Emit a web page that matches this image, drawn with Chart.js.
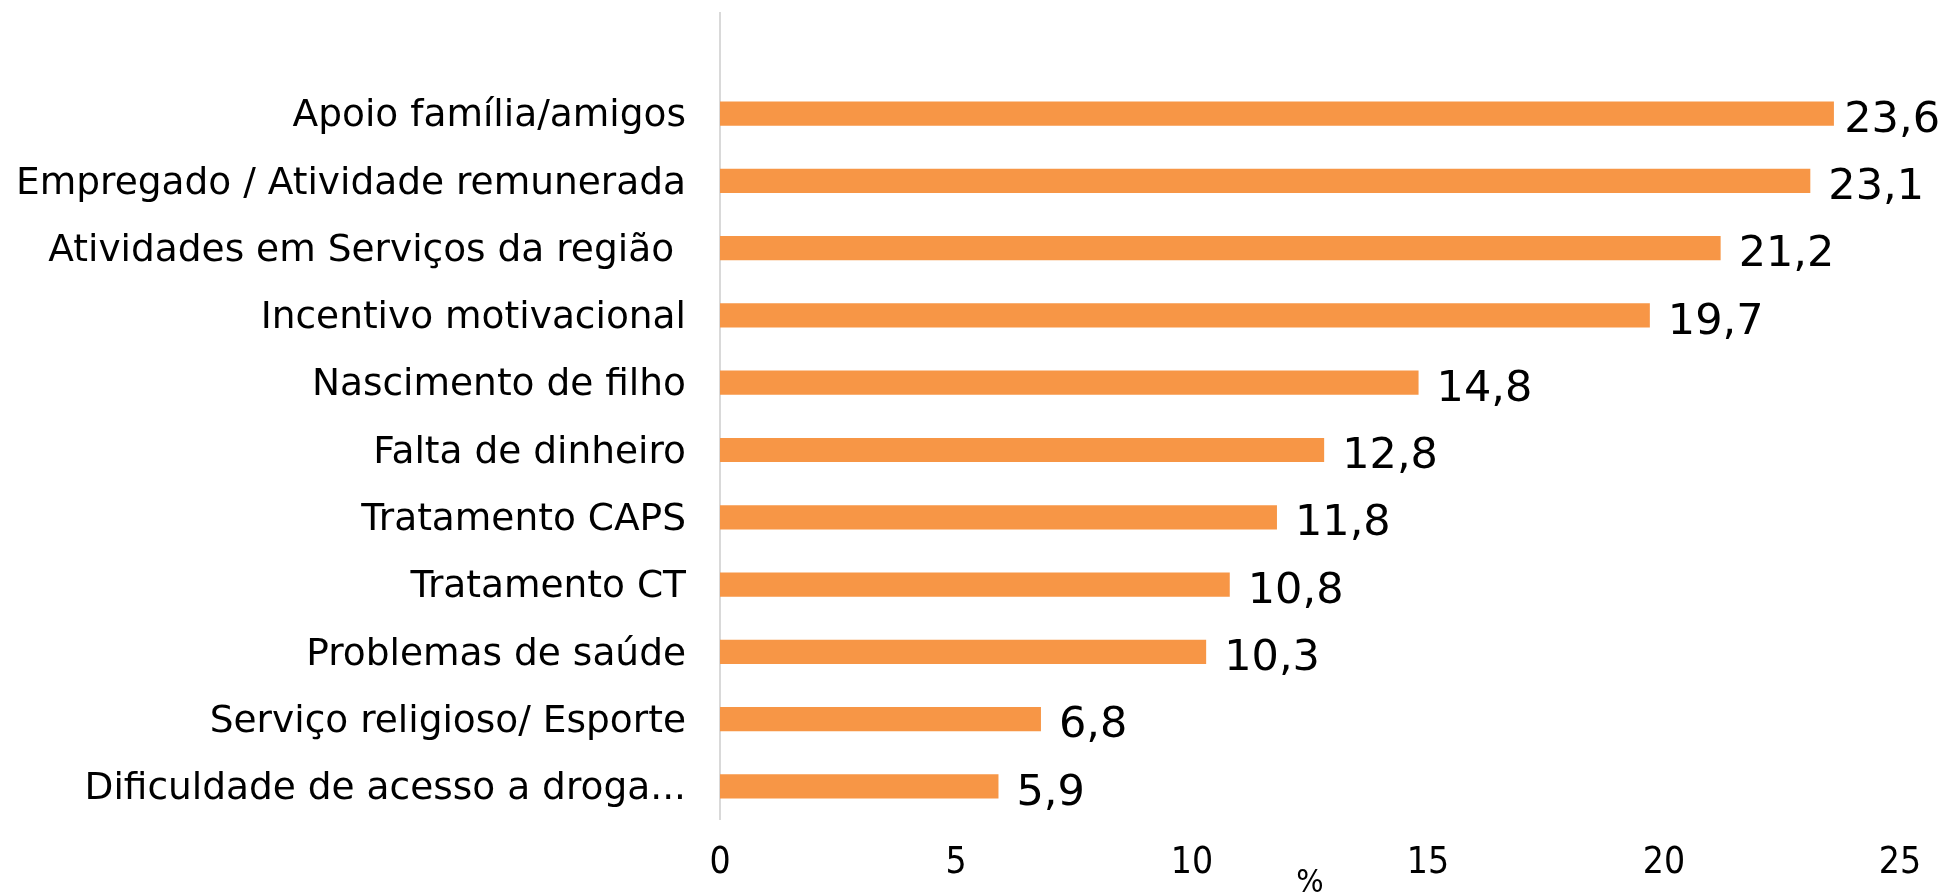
<!DOCTYPE html>
<html>
<head>
<meta charset="utf-8">
<script src="https://cdn.jsdelivr.net/npm/chart.js@4.4.0/dist/chart.umd.min.js"></script>
<style>
  html, body { margin: 0; padding: 0; background: #fff; }
  #wrap { width: 1947px; height: 893px; }
</style>
</head>
<body>
<div id="wrap">
  <canvas id="myChart" width="1947" height="893"></canvas>
</div>
<script>
// categories and values (%)
const categories = [
    "Apoio família/amigos",
    "Empregado / Atividade remunerada",
    "Atividades em Serviços da região ",
    "Incentivo motivacional",
    "Nascimento de filho",
    "Falta de dinheiro",
    "Tratamento CAPS",
    "Tratamento CT",
    "Problemas de saúde",
    "Serviço religioso/ Esporte",
    "Dificuldade de acesso a droga..."
];
const percentages = [23.6, 23.1, 21.2, 19.7, 14.8, 12.8, 11.8, 10.8, 10.3, 6.8, 5.9];
const xTicks = [0, 5, 10, 15, 20, 25];

const barColor = "#F79646";

// value labels at the end of each bar (comma decimals)
const valueLabels = {
    id: 'valueLabels',
    afterDatasetsDraw(chart) {
        const ctx = chart.ctx;
        const meta = chart.getDatasetMeta(0);
        ctx.save();
        ctx.font = '43px "DejaVu Sans", sans-serif';
        ctx.fillStyle = '#000';
        ctx.textAlign = 'left';
        ctx.textBaseline = 'middle';
        meta.data.forEach((bar, i) => {
            const txt = percentages[i].toFixed(1).replace('.', ',');
            const w = ctx.measureText(txt).width;
            let x = bar.x + 18;
            if (x + w > chart.width - 7) x = chart.width - 7 - w;
            ctx.fillText(txt, x, bar.y + 7);
        });
        ctx.restore();
    }
};

// vertical axis line, runs up past the plot area
const axisLine = {
    id: 'axisLine',
    beforeDatasetsDraw(chart) {
        const ctx = chart.ctx;
        const x = chart.scales.x.getPixelForValue(0);
        ctx.save();
        ctx.strokeStyle = '#d9d9d9';
        ctx.lineWidth = 2;
        ctx.beginPath();
        ctx.moveTo(x, 12);
        ctx.lineTo(x, chart.chartArea.bottom);
        ctx.stroke();
        ctx.restore();
    }
};

let ctx = document.getElementById('myChart').getContext('2d');
let myChart = new Chart(ctx, {
    type: 'bar',
    data: {
        labels: categories,
        datasets: [{
            data: percentages,
            backgroundColor: barColor,
            borderWidth: 0,
            barPercentage: 0.36,
            categoryPercentage: 1.0
        }]
    },
    options: {
        indexAxis: 'y',
        responsive: false,
        animation: false,
        layout: { padding: { top: 80, right: 47, left: 0, bottom: 0 } },
        plugins: {
            legend: { display: false },
            tooltip: { enabled: false }
        },
        scales: {
            x: {
                min: 0,
                max: 25,
                afterBuildTicks: (scale) => { scale.ticks = xTicks.map(v => ({ value: v })); },
                afterFit: (scale) => { scale.height = 73; },
                grid: { display: false, drawTicks: false },
                border: { display: false },
                ticks: {
                    padding: 21,
                    color: '#000',
                    font: { family: '"Liberation Sans Narrow", "DejaVu Sans Condensed", sans-serif', size: 37 }
                },
                title: {
                    display: true,
                    text: '%',
                    color: '#000',
                    padding: { top: 0, bottom: -10 },
                    font: { family: '"Liberation Sans Narrow", "DejaVu Sans Condensed", sans-serif', size: 32 }
                }
            },
            y: {
                afterFit: (scale) => { scale.width = 720; },
                grid: { display: false, drawTicks: false },
                border: { display: false },
                ticks: {
                    autoSkip: false,
                    padding: 34,
                    labelOffset: 3,
                    color: '#000',
                    font: { family: '"DejaVu Sans", sans-serif', size: 37.5 }
                }
            }
        }
    },
    plugins: [axisLine, valueLabels]
});
</script>
</body>
</html>
